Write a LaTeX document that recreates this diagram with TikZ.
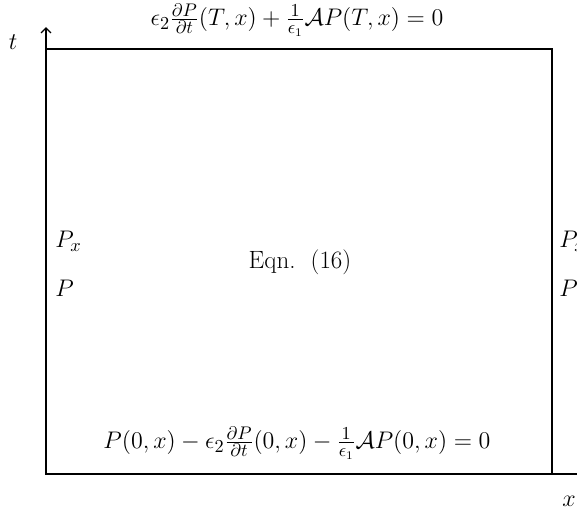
\documentclass[tikz,border=0pt]{standalone}
\usepackage{amsmath,amssymb}
\usetikzlibrary{arrows.meta,calc,positioning}

\begin{document}
\begin{tikzpicture}[x=0.6pt,y=-0.6pt,lbl/.style={inner sep=0pt,font=\fontsize{15}{18}\selectfont}]
 \useasboundingbox(0,0)rectangle(577,512);
 \coordinate(o)at(46,474);\coordinate(ttop)at(46,27);\coordinate(xend)at(590,474);
 \draw[line width=0.8pt](46,49)rectangle(552,474);
 \draw[line width=0.8pt,-{Straight Barb[length=3pt]}](o)--(ttop);
 \draw[line width=0.8pt](o)--(xend);
 \node[lbl](tlab)at(13,42){$t$};
 \node[lbl](xlab)at(569,501){$x$};
 \node[lbl](topbc)at(297,20){$\epsilon_2\frac{\partial P}{\partial t}(T,x)+\frac{1}{\epsilon_1}\mathcal{A}P(T,x)=0$};
 \node[lbl](botbc)at(297,443){$P(0,x)-\epsilon_2\frac{\partial P}{\partial t}(0,x)-\frac{1}{\epsilon_1}\mathcal{A}P(0,x)=0$};
 \node[lbl](eqn)at(300,262){Eqn.\ \ (16)};
 \node[lbl,anchor=west](lpx)at(55,241){$P_x$};
 \node[lbl,anchor=west](lp)at(55,288){$P$};
 \node[lbl,anchor=west](rpx)at(559,241){$P_x$};
 \node[lbl,anchor=west](rp)at(559,288){$P$};
\end{tikzpicture}
\end{document}
